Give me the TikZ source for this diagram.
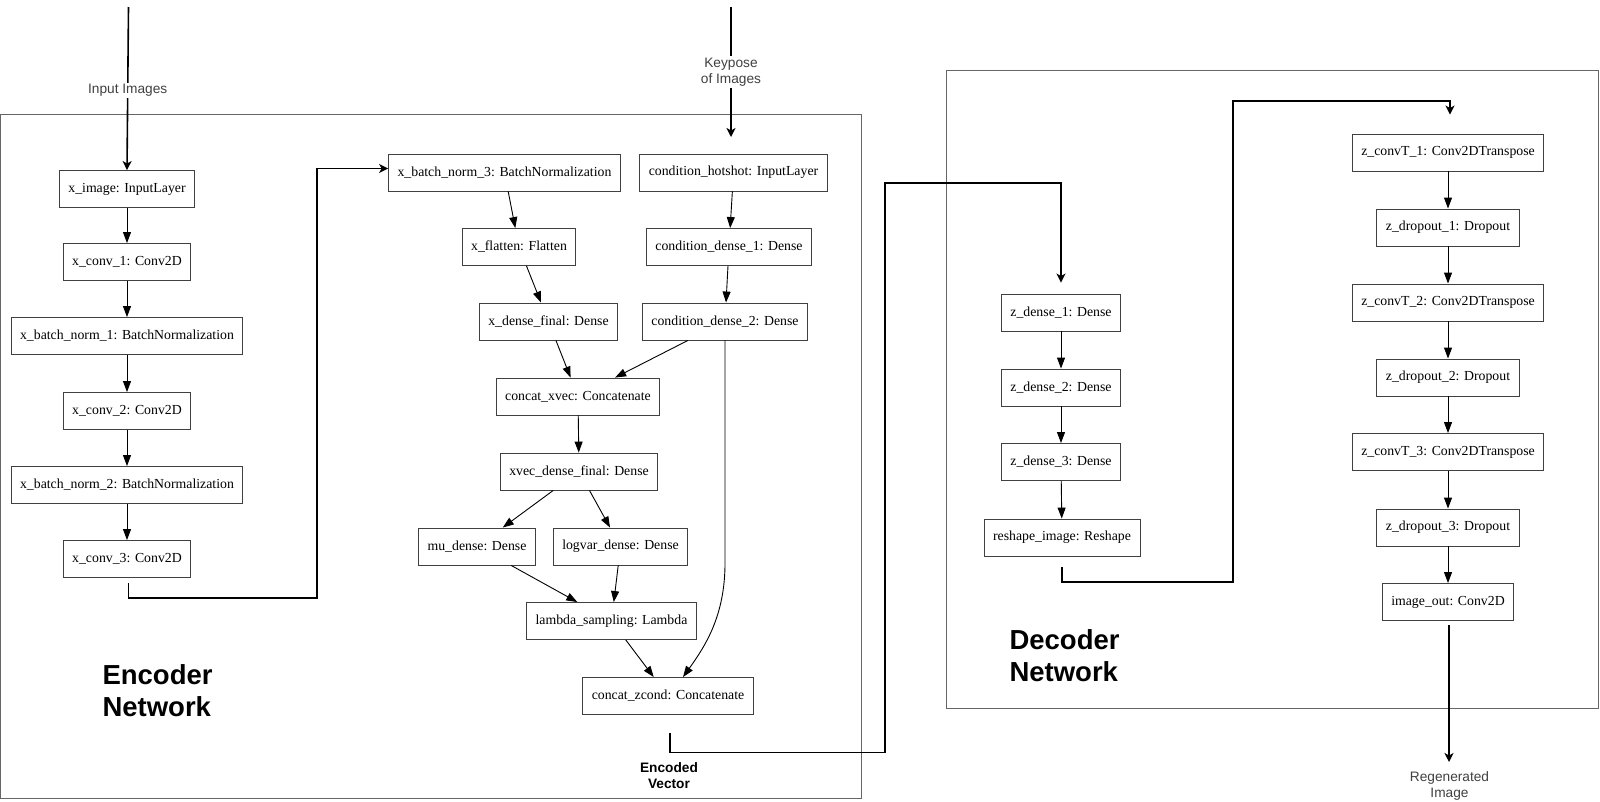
\documentclass[tikz,border=0pt]{standalone}
\usepackage{fontspec}
\setmainfont{Liberation Serif}
\setsansfont{Liberation Sans}
\usetikzlibrary{arrows.meta,calc}

\begin{document}
\begin{tikzpicture}[x=1pt, y=-1pt,
			layer/.style={rectangle, draw=black!75, line width=0.9pt, inner xsep=9pt, inner ysep=0pt,
				minimum height=37pt, font=\fontsize{13.8}{16}\selectfont},
			frame/.style={draw=black!60, line width=1pt},
			edge/.style={-{Triangle[length=11pt,width=8pt]}, line width=0.9pt},
			link/.style={-{Stealth[length=9pt,width=9pt,inset=2.5pt]}, line width=1.6pt},
			lbl/.style={fill=white, inner sep=1.5pt, align=center, text=black!75,
				font=\sffamily\fontsize{13.7}{16}\selectfont},
			netname/.style={anchor=west, align=left, font=\sffamily\bfseries\fontsize{27.5}{32}\selectfont},
			]
			\useasboundingbox (0,0) rectangle (1600,801);
			
			% network frames
			\draw[frame] (0.5,114) rectangle (861,798.5);
			\draw[frame] (946,70) rectangle (1598,708);
			
			% encoder, image branch
			\node[layer] (ximg) at (127,189) {x\_image: InputLayer};
			\node[layer] (xc1) at (127,262) {x\_conv\_1: Conv2D};
			\node[layer] (xbn1) at (127,336) {x\_batch\_norm\_1: BatchNormalization};
			\node[layer] (xc2) at (127,411) {x\_conv\_2: Conv2D};
			\node[layer] (xbn2) at (127,485) {x\_batch\_norm\_2: BatchNormalization};
			\node[layer] (xc3) at (127,559) {x\_conv\_3: Conv2D};
			
			\node[layer] (xbn3) at (504.5,172.5) {x\_batch\_norm\_3: BatchNormalization};
			\node[layer] (xfl) at (519,247) {x\_flatten: Flatten};
			\node[layer] (xdf) at (548.5,321.5) {x\_dense\_final: Dense};
			
			% encoder, condition branch
			\node[layer] (chot) at (733.5,172.5) {condition\_hotshot: InputLayer};
			\node[layer] (cd1) at (729,247) {condition\_dense\_1: Dense};
			\node[layer] (cd2) at (725,321.5) {condition\_dense\_2: Dense};
			
			\node[layer] (cxv) at (578,396.5) {concat\_xvec: Concatenate};
			\node[layer] (xvd) at (579,471.5) {xvec\_dense\_final: Dense};
			\node[layer] (mud) at (477,546.5) {mu\_dense: Dense};
			\node[layer] (lvd) at (620.5,546.5) {logvar\_dense: Dense};
			\node[layer] (lam) at (611.5,621) {lambda\_sampling: Lambda};
			\node[layer] (czc) at (668,696) {concat\_zcond: Concatenate};
			
			% decoder
			\node[layer] (zd1) at (1061,312.5) {z\_dense\_1: Dense};
			\node[layer] (zd2) at (1061,387.5) {z\_dense\_2: Dense};
			\node[layer] (zd3) at (1061,462) {z\_dense\_3: Dense};
			\node[layer] (rsh) at (1062,537.5) {reshape\_image: Reshape};
			
			\node[layer] (zt1) at (1448,152.5) {z\_convT\_1: Conv2DTranspose};
			\node[layer] (zo1) at (1448,227.5) {z\_dropout\_1: Dropout};
			\node[layer] (zt2) at (1448,302.5) {z\_convT\_2: Conv2DTranspose};
			\node[layer] (zo2) at (1448,377.5) {z\_dropout\_2: Dropout};
			\node[layer] (zt3) at (1448,452) {z\_convT\_3: Conv2DTranspose};
			\node[layer] (zo3) at (1448,527.5) {z\_dropout\_3: Dropout};
			\node[layer] (iout) at (1448,602) {image\_out: Conv2D};
			
			% layer edges
			\draw[edge] (ximg) -- (xc1);
			\draw[edge] (xc1) -- (xbn1);
			\draw[edge] (xbn1) -- (xc2);
			\draw[edge] (xc2) -- (xbn2);
			\draw[edge] (xbn2) -- (xc3);
			\draw[edge] (xbn3) -- (xfl);
			\draw[edge] (xfl) -- (xdf);
			\draw[edge] (chot) -- (cd1);
			\draw[edge] (cd1) -- (cd2);
			\draw[edge] (xdf) -- (cxv);
			\draw[edge] (cd2) -- (cxv);
			\draw[edge] (cxv) -- (xvd);
			\draw[edge] (xvd) -- (mud);
			\draw[edge] (xvd) -- (lvd);
			\draw[edge] (mud) -- (lam);
			\draw[edge] (lvd) -- (lam);
			\draw[edge] (lam) -- (czc);
			\draw[edge] (cd2.south) -- (725,563) .. controls (725,615) and (706,645) .. ($(czc.north)+(15,0)$);
			\draw[edge] (zd1) -- (zd2);
			\draw[edge] (zd2) -- (zd3);
			\draw[edge] (zd3) -- (rsh);
			\draw[edge] (zt1) -- (zo1);
			\draw[edge] (zo1) -- (zt2);
			\draw[edge] (zt2) -- (zo2);
			\draw[edge] (zo2) -- (zt3);
			\draw[edge] (zt3) -- (zo3);
			\draw[edge] (zo3) -- (iout);
			
			% inputs and outputs
			\coordinate (inimg) at (128.5,7);
			\coordinate (inkey) at (731,7);
			\coordinate (keyend) at (731,137);
			\coordinate (xout) at (128.5,583);
			\coordinate (zout) at (670,733);
			\coordinate (rout) at (1062,567);
			\coordinate (regend) at (1449,762);
			
			\draw[link] (inimg) -- node[lbl, pos=0.51]{Input Images} (ximg.north);
			\draw[link] (inkey) -- node[lbl, pos=0.5]{Keypose\\of Images} (keyend);
			\draw[link] (xout) |- (317,598) |- ($(xbn3.west)+(0,-4)$);
			\draw[link] (zout) |- (885,752.5) |- (1061,183) -- ($(zd1.north)+(0,-11)$);
			\draw[link] (rout) |- (1233,582) |- (1450,101) -- ($(zt1.north)+(2,-19)$);
			\draw[link] ($(iout.south)+(1,4)$) -- (regend);
			
			\node[lbl, fill=none] (regen) at (1449.5,786) {Regenerated\\Image};
			\node[lbl, fill=none, text=black, font=\sffamily\bfseries\fontsize{13.7}{16}\selectfont] (encvec) at (669,776) {Encoded\\Vector};
			
			\node[netname] (enclbl) at (99,691) {Encoder\\Network};
			\node[netname] (declbl) at (1006,655.5) {Decoder\\Network};
		\end{tikzpicture}
\end{document}
